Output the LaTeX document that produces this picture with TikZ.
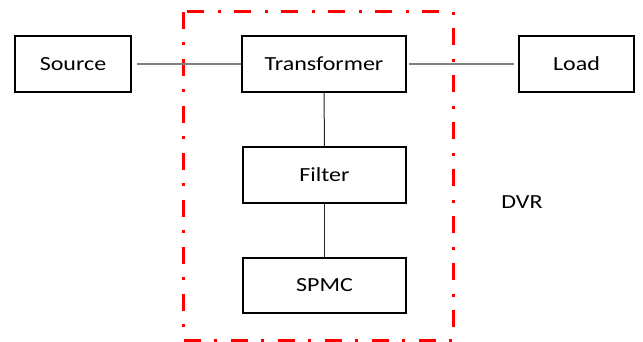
\documentclass[tikz,border=0pt]{standalone}
\usepackage{fontspec}
\setmainfont{Carlito}[FakeStretch=1.2]
\begin{document}
\begin{tikzpicture}[x=1pt,y=-1pt,
    block/.style={draw=black,line width=2pt,inner sep=0pt,minimum height=56pt,font=\fontsize{20}{24}\selectfont},
    hwire/.style={draw=gray,line width=1.4pt},
    vwire/.style={draw=black!85,line width=1pt},
    dvrbox/.style={draw=red,line width=3pt,dash pattern=on 17pt off 13pt on 3pt off 14pt}]
    \useasboundingbox (0,0) rectangle (643,342);
    % dvr boundary
    \draw[dvrbox] (183,12) rectangle (453,340);
    % blocks
    \node[block,minimum width=116pt] (source) at (73,64) {Source};
    \node[block,minimum width=164pt] (transformer) at (324,64) {Transformer};
    \node[block,minimum width=115pt] (load) at (576.5,64) {Load};
    \node[block,minimum width=163pt] (filter) at (324.5,175) {Filter};
    \node[block,minimum width=163pt,minimum height=55pt] (spmc) at (324.5,285.5) {SPMC};
    \node[font=\fontsize{20}{24}\selectfont] (dvr) at (522,202) {DVR};
    % connections
    \draw[hwire,shorten <=5pt] (source) -- (transformer);
    \draw[hwire,shorten <=2pt,shorten >=4pt] (transformer) -- (load);
    \draw[vwire] (transformer) -- (filter);
    \draw[vwire] (filter) -- (spmc);
\end{tikzpicture}
\end{document}
